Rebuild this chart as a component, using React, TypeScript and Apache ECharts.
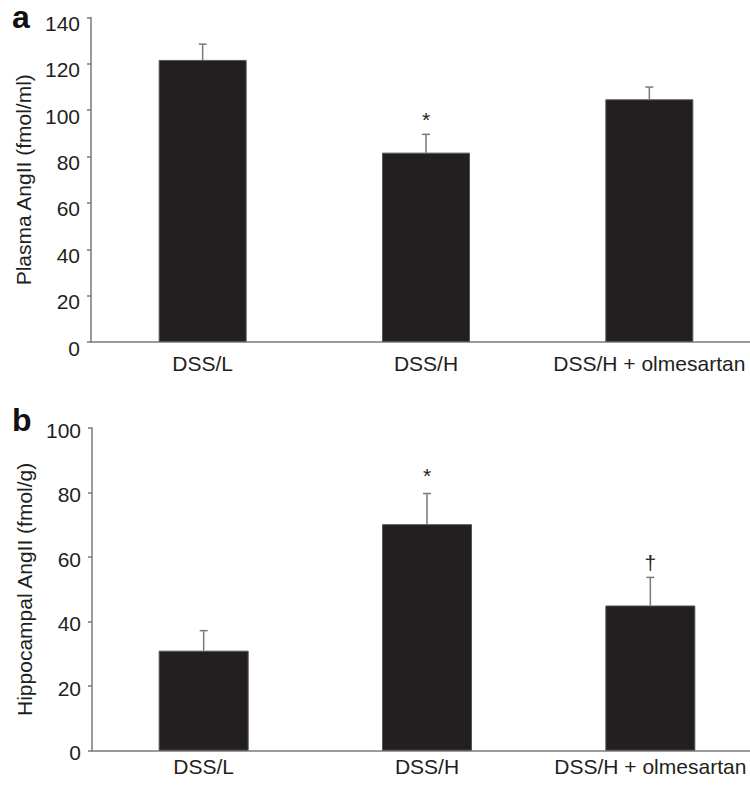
import React, { useEffect, useRef } from "react";
import * as echarts from "echarts";

const categories = ["DSS/L", "DSS/H", "DSS/H + olmesartan"];

const plasmaMean = [121.7, 81.7, 104.7];
const plasmaErr = [6.8, 7.9, 5.3];
const plasmaMarks = ["", "*", ""];

const hippoMean = [31.0, 70.2, 45.0];
const hippoErr = [6.2, 9.5, 8.7];
const hippoMarks = ["", "*", "\u2020"];

const plasmaAxis = { min: 0, max: 140, interval: 20 };
const hippoAxis = { min: 0, max: 100, interval: 20 };

const FONT = "'Liberation Sans', Arial, Helvetica, sans-serif";
const INK = "#231f20";
const AXIS = "#7a7a7a";

function errorSeries(gridIdx: number, means: number[], errs: number[], marks: string[], markOffset: number[]) {
  return {
    type: "custom",
    xAxisIndex: gridIdx,
    yAxisIndex: gridIdx,
    z: 5,
    data: means.map((m, i) => [i, m, errs[i]]),
    encode: { x: 0, y: 1 },
    renderItem: (params: any, api: any) => {
      const i = api.value(0);
      const m = api.value(1);
      const e = api.value(2);
      const p0 = api.coord([i, m]);
      const p1 = api.coord([i, m + e]);
      const half = 4;
      const children: any[] = [
        {
          type: "line",
          shape: { x1: p0[0], y1: p0[1], x2: p1[0], y2: p1[1] },
          style: { stroke: AXIS, lineWidth: 1.5 },
        },
        {
          type: "line",
          shape: { x1: p1[0] - half, y1: p1[1], x2: p1[0] + half, y2: p1[1] },
          style: { stroke: AXIS, lineWidth: 1.5 },
        },
      ];
      const mk = marks[params.dataIndex];
      if (mk) {
        children.push({
          type: "text",
          x: p1[0],
          y: p1[1] - markOffset[params.dataIndex],
          style: {
            text: mk,
            font: `21px ${FONT}`,
            fill: INK,
            align: "center",
            verticalAlign: "bottom",
          },
        });
      }
      return { type: "group", children };
    },
  };
}

export default function App() {
  const ref = useRef<HTMLDivElement>(null);
  useEffect(() => {
    if (!ref.current) return;
    const chart = echarts.init(ref.current, undefined, { renderer: "svg" });
    const xAxisBase = (gridIndex: number, margin: number) => ({
      type: "category",
      gridIndex,
      data: categories,
      axisLine: { lineStyle: { color: AXIS, width: 1.5 } },
      axisTick: { show: false },
      axisLabel: { color: INK, fontSize: 21, fontFamily: FONT, margin, interval: 0 },
    });
    const yAxisBase = (gridIndex: number, ax: any, name: string, shift: number) => ({
      type: "value",
      gridIndex,
      min: ax.min,
      max: ax.max,
      interval: ax.interval,
      name,
      nameLocation: "middle",
      nameRotate: 90,
      nameGap: 55,
      nameTextStyle: { color: INK, fontSize: 21, fontFamily: FONT },
      splitLine: { show: false },
      axisLine: { show: true, lineStyle: { color: AXIS, width: 1.5 } },
      axisTick: { show: true, length: 4, lineStyle: { color: AXIS, width: 1.5 } },
      axisLabel: {
        color: INK,
        fontSize: 21,
        fontFamily: FONT,
        margin: 11,
        verticalAlign: "top",
        lineHeight: shift * 2,
      },
    });
    chart.setOption({
      animation: false,
      backgroundColor: "#ffffff",
      grid: [
        { left: 91, top: 17.5, width: 670, height: 324.5 },
        { left: 92, top: 428, width: 670, height: 322.7 },
      ],
      xAxis: [xAxisBase(0, 11), xAxisBase(1, 5)],
      yAxis: [
        yAxisBase(0, plasmaAxis, "Plasma AngII (fmol/ml)", 6),
        yAxisBase(1, hippoAxis, "Hippocampal AngII (fmol/g)", 2),
      ],
      graphic: [
        { type: "text", left: 12, top: 1, style: { text: "a", font: `bold 32px ${FONT}`, fill: "#111" } },
        { type: "text", left: 12, top: 404, style: { text: "b", font: `bold 32px ${FONT}`, fill: "#111" } },
      ],
      series: [
        {
          type: "bar",
          xAxisIndex: 0,
          yAxisIndex: 0,
          data: plasmaMean,
          barWidth: 88,
          itemStyle: { color: INK, borderColor: "#555", borderWidth: 1 },
        },
        errorSeries(0, plasmaMean, plasmaErr, plasmaMarks, [4, 4, 4]),
        {
          type: "bar",
          xAxisIndex: 1,
          yAxisIndex: 1,
          data: hippoMean,
          barWidth: 90,
          itemStyle: { color: INK, borderColor: "#555", borderWidth: 1 },
        },
        errorSeries(1, hippoMean, hippoErr, hippoMarks, [8, 8, 4]),
      ],
    });
    return () => chart.dispose();
  }, []);
  return (
    <div style={{ position: "absolute", left: 0, top: 0, width: 750, height: 787, overflow: "hidden", background: "#fff" }}>
      <div ref={ref} style={{ width: 770, height: 787 }} />
    </div>
  );
}
